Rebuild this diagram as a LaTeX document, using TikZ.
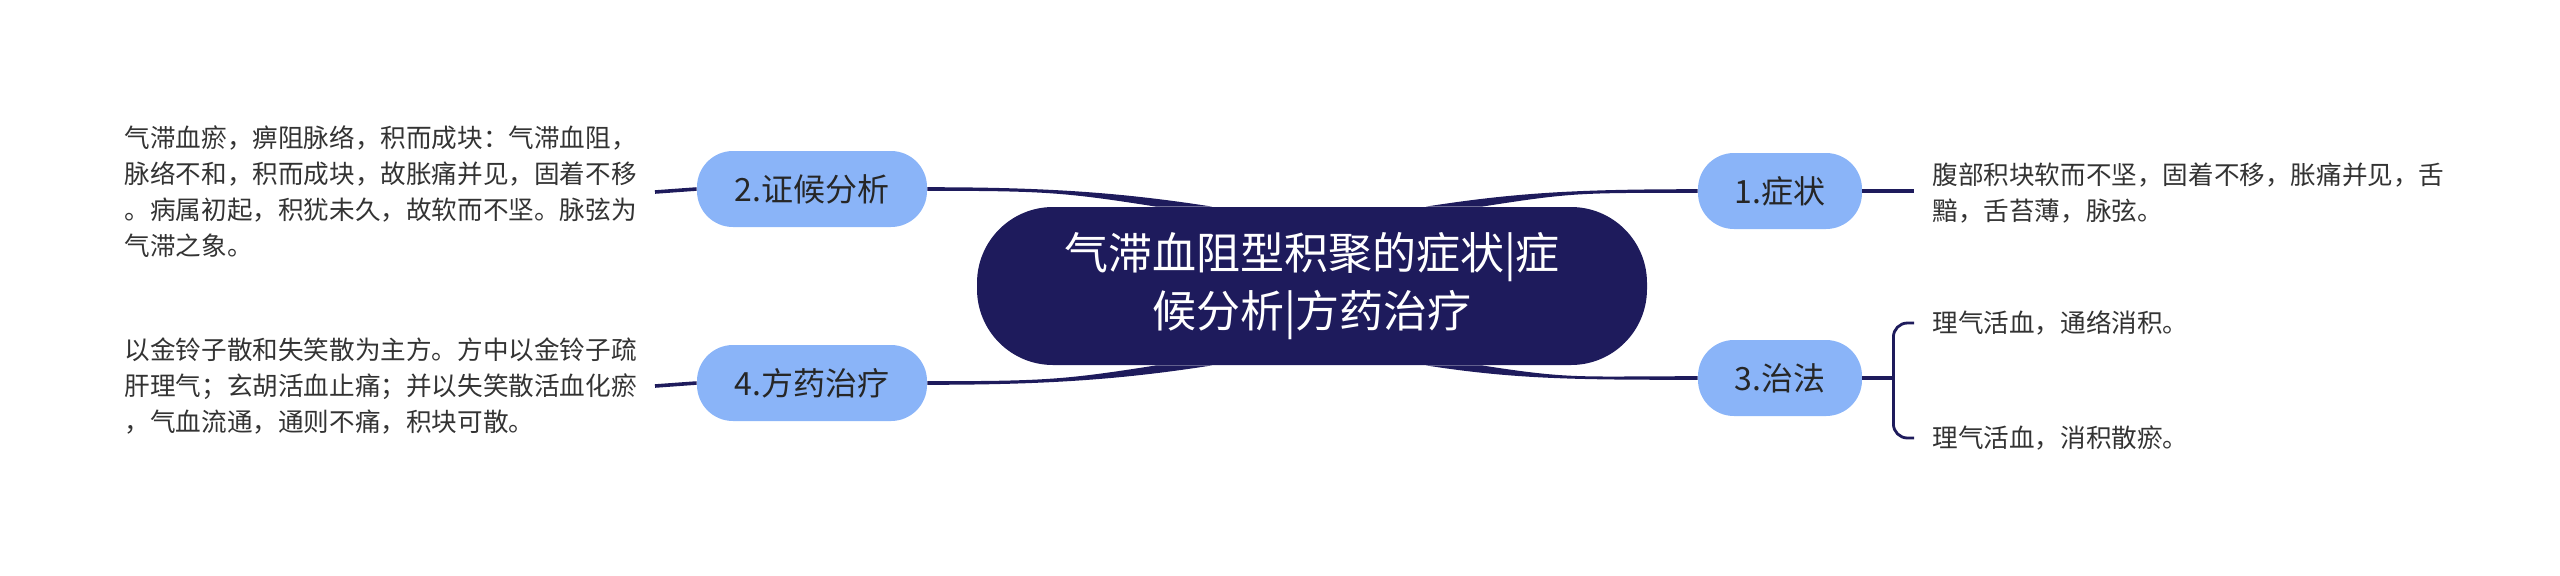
\documentclass[tikz,border=0pt]{standalone}
\usepackage{fontspec}
\setmainfont{Noto Sans CJK SC}
\definecolor{navy}{HTML}{1E1B5C}
\definecolor{skyblue}{HTML}{8AB4F8}
\definecolor{leaftext}{HTML}{333333}

\begin{document}
\begin{tikzpicture}[x=0.5pt,y=-0.5pt,
  root/.style={fill=navy, text=white, rounded corners=38pt, minimum width=335pt, minimum height=79pt, align=center, font=\fontsize{22pt}{29pt}\selectfont},
  topic/.style={fill=skyblue, text=black!85, rounded corners=18pt, minimum height=38pt, font=\fontsize{16pt}{19pt}\selectfont},
  leaf/.style={text=leaftext, align=left, inner xsep=9pt, font=\fontsize{12.8pt}{18pt}\selectfont},
  twig/.style={draw=navy, line width=1.8pt},
  brace/.style={draw=navy, line width=1.4pt, rounded corners=7pt}]
\useasboundingbox (0,0) rectangle (2560,575);

% centre and topics
\node[root] (zc) at (1312,286) {气滞血阻型积聚的症状|症\\候分析|方药治疗};
\node[topic, minimum width=115pt] (zh) at (812,189) {2.证候分析};
\node[topic, minimum width=115pt] (zy) at (812,383) {4.方药治疗};
\node[topic, minimum width=82pt] (zz) at (1780,191) {1.症状};
\node[topic, minimum width=82pt] (zf) at (1780,378) {3.治法};

% leaves
\node[leaf, anchor=east] (l2) at (655,192) {气滞血瘀，痹阻脉络，积而成块：气滞血阻，\\脉络不和，积而成块，故胀痛并见，固着不移\\。病属初起，积犹未久，故软而不坚。脉弦为\\气滞之象。};
\node[leaf, anchor=east] (l4) at (655,386) {以金铃子散和失笑散为主方。方中以金铃子疏\\肝理气；玄胡活血止痛；并以失笑散活血化瘀\\，气血流通，通则不痛，积块可散。};
\node[leaf, anchor=west] (l1) at (1914,193) {腹部积块软而不坚，固着不移，胀痛并见，舌\\黯，舌苔薄，脉弦。};
\node[leaf, anchor=west] (l31) at (1914,323) {理气活血，通络消积。};
\node[leaf, anchor=west] (l32) at (1914,438) {理气活血，消积散瘀。};

% tapered links from the centre
\fill[navy] ([yshift=0.9pt]zh.east) .. controls +(120,0) and +(-90,-14) .. ([xshift=-50pt]zc.north)
  -- ([xshift=-78pt]zc.north) .. controls +(-90,-14) and +(120,0) .. ([yshift=-0.9pt]zh.east) -- cycle;
\fill[navy] ([yshift=0.9pt]zy.east) .. controls +(120,0) and +(-90,14) .. ([xshift=-78pt]zc.south)
  -- ([xshift=-50pt]zc.south) .. controls +(-90,14) and +(120,0) .. ([yshift=-0.9pt]zy.east) -- cycle;
\fill[navy] ([yshift=0.9pt]zz.west) .. controls +(-120,0) and +(90,-14) .. ([xshift=57pt]zc.north)
  -- ([xshift=85pt]zc.north) .. controls +(90,-14) and +(-120,0) .. ([yshift=-0.9pt]zz.west) -- cycle;
\fill[navy] ([yshift=0.9pt]zf.west) .. controls +(-120,0) and +(90,14) .. ([xshift=85pt]zc.south)
  -- ([xshift=57pt]zc.south) .. controls +(90,14) and +(-120,0) .. ([yshift=-0.9pt]zf.west) -- cycle;

% leaf connectors
\draw[twig] (l2.east) -- (zh.west);
\draw[twig] (l4.east) -- (zy.west);
\draw[twig] (zz.east) -- (zz.east -| l1.west);
\draw[twig] (zf.east) -- ++(31,0) coordinate (fork);
\draw[brace] (fork) |- (l31.west);
\draw[brace] (fork) |- (l32.west);
\end{tikzpicture}
\end{document}
